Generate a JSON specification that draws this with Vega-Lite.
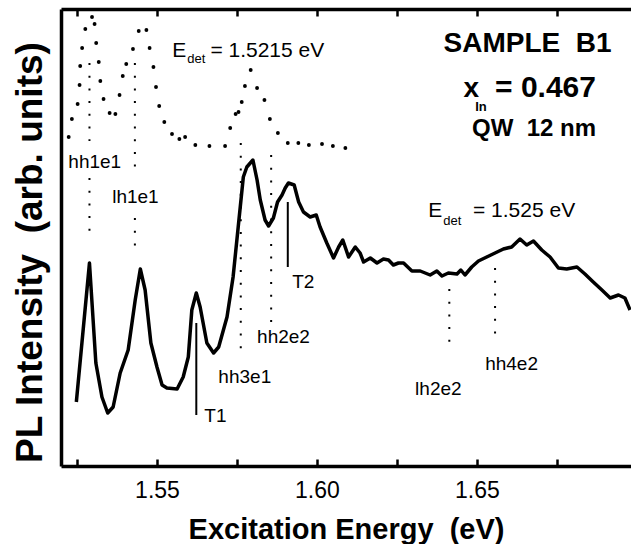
{
  "$schema": "https://vega.github.io/schema/vega-lite/v6.json",
  "width": 570,
  "height": 457,
  "autosize": "none",
  "padding": {"left": 61, "top": 9, "right": 0, "bottom": 78},
  "background": "white",
  "config": {"view": {"stroke": null}, "font": "Liberation Sans"},
  "datasets": {
    "pl": [
      {"E":1.5248,"I":64},{"E":1.5289,"I":203},{"E":1.5309,"I":103},{"E":1.5328,"I":69},{"E":1.5346,"I":53},{"E":1.5363,"I":59},{"E":1.5385,"I":93},{"E":1.5410,"I":116},{"E":1.5432,"I":166},{"E":1.5448,"I":197},{"E":1.5463,"I":176},{"E":1.5481,"I":123},{"E":1.5500,"I":99},{"E":1.5516,"I":81},{"E":1.5531,"I":78},{"E":1.5563,"I":77},{"E":1.5582,"I":89},{"E":1.5598,"I":109},{"E":1.5609,"I":156},{"E":1.5623,"I":173},{"E":1.5635,"I":159},{"E":1.5656,"I":123},{"E":1.5677,"I":113},{"E":1.5693,"I":119},{"E":1.5719,"I":149},{"E":1.5738,"I":189},{"E":1.5754,"I":239},{"E":1.5770,"I":289},{"E":1.5781,"I":299},{"E":1.5800,"I":306},{"E":1.5813,"I":286},{"E":1.5823,"I":266},{"E":1.5838,"I":246},{"E":1.5849,"I":240},{"E":1.5864,"I":248},{"E":1.5877,"I":264},{"E":1.5891,"I":271},{"E":1.5901,"I":278},{"E":1.5911,"I":283},{"E":1.5929,"I":281},{"E":1.5943,"I":264},{"E":1.5958,"I":254},{"E":1.5979,"I":249},{"E":1.5998,"I":251},{"E":1.6010,"I":239},{"E":1.6031,"I":223},{"E":1.6052,"I":208},{"E":1.6068,"I":219},{"E":1.6081,"I":226},{"E":1.6099,"I":209},{"E":1.6120,"I":219},{"E":1.6135,"I":213},{"E":1.6146,"I":204},{"E":1.6167,"I":208},{"E":1.6188,"I":203},{"E":1.6208,"I":207},{"E":1.6224,"I":206},{"E":1.6239,"I":201},{"E":1.6255,"I":203},{"E":1.6271,"I":203},{"E":1.6297,"I":195},{"E":1.6323,"I":195},{"E":1.6354,"I":191},{"E":1.6375,"I":195},{"E":1.6391,"I":190},{"E":1.6411,"I":193},{"E":1.6438,"I":192},{"E":1.6450,"I":196},{"E":1.6463,"I":191},{"E":1.6484,"I":199},{"E":1.6505,"I":205},{"E":1.6531,"I":209},{"E":1.6557,"I":213},{"E":1.6583,"I":217},{"E":1.6609,"I":219},{"E":1.6635,"I":227},{"E":1.6656,"I":221},{"E":1.6677,"I":225},{"E":1.6703,"I":216},{"E":1.6729,"I":209},{"E":1.6755,"I":198},{"E":1.6781,"I":197},{"E":1.6813,"I":199},{"E":1.6838,"I":192},{"E":1.6864,"I":184},{"E":1.6891,"I":176},{"E":1.6917,"I":168},{"E":1.6943,"I":171},{"E":1.6963,"I":168},{"E":1.6979,"I":156}
    ],
    "dots": [
      {"E":1.5224,"I":329},{"E":1.5234,"I":347},{"E":1.5252,"I":362},{"E":1.5258,"I":381},{"E":1.5260,"I":400},{"E":1.5266,"I":418},{"E":1.5276,"I":437},{"E":1.5297,"I":449},{"E":1.5305,"I":442},{"E":1.5310,"I":423},{"E":1.5318,"I":404},{"E":1.5323,"I":385},{"E":1.5333,"I":367},{"E":1.5352,"I":353},{"E":1.5370,"I":352},{"E":1.5383,"I":371},{"E":1.5393,"I":390},{"E":1.5404,"I":402},{"E":1.5425,"I":417},{"E":1.5443,"I":435},{"E":1.5467,"I":436},{"E":1.5477,"I":418},{"E":1.5489,"I":399},{"E":1.5497,"I":379},{"E":1.5507,"I":360},{"E":1.5523,"I":344},{"E":1.5547,"I":332},{"E":1.5570,"I":327},{"E":1.5588,"I":329},{"E":1.5620,"I":321},{"E":1.5664,"I":320},{"E":1.5713,"I":320},{"E":1.5729,"I":338},{"E":1.5746,"I":352},{"E":1.5755,"I":354},{"E":1.5765,"I":364},{"E":1.5775,"I":380},{"E":1.5793,"I":396},{"E":1.5813,"I":378},{"E":1.5836,"I":366},{"E":1.5853,"I":347},{"E":1.5878,"I":333},{"E":1.5909,"I":323},{"E":1.5942,"I":323},{"E":1.5975,"I":321},{"E":1.6016,"I":322},{"E":1.6050,"I":320},{"E":1.6089,"I":318}
    ],
    "vdots": [
      {"E":1.5289,"I":403,"I2":325},{"E":1.5289,"I":288,"I2":226},
      {"E":1.5431,"I":403,"I2":290},{"E":1.5431,"I":248,"I2":211},
      {"E":1.5762,"I":323,"I2":114},
      {"E":1.5857,"I":311,"I2":143},
      {"E":1.6414,"I":177,"I2":116},
      {"E":1.6557,"I":198,"I2":123}
    ],
    "slines": [
      {"E":1.5623,"I":143,"I2":51},{"E":1.5909,"I":264,"I2":199}
    ],
    "labels": [
      {"E":1.5223,"I":298,"t":"hh1e1"},{"E":1.5360,"I":263,"t":"lh1e1"},{"E":1.5692,"I":83,"t":"hh3e1"},{"E":1.5813,"I":123,"t":"hh2e2"},{"E":1.5648,"I":44,"t":"T1"},{"E":1.5923,"I":178,"t":"T2"},{"E":1.6307,"I":71,"t":"lh2e2"},{"E":1.6526,"I":96,"t":"hh4e2"}
    ],
    "edet": [
      {"E":1.5548,"I":409,"t":"E"},{"E":1.5667,"I":409,"t":"= 1.5215 eV"},{"E":1.6348,"I":249,"t":"E"},{"E":1.6488,"I":249,"t":"= 1.525 eV"}
    ],
    "edetsub": [
      {"E":1.5595,"I":403,"t":"det"},{"E":1.6395,"I":241,"t":"det"}
    ],
    "bold28": [
      {"E":1.6396,"I":414,"t":"SAMPLE\u00a0 B1"},{"E":1.6458,"I":369,"t":"x"}
    ],
    "bold30": [
      {"E":1.6557,"I":369,"t":"= 0.467"}
    ],
    "bold15": [
      {"E":1.6495,"I":355,"t":"In"}
    ],
    "bold25": [
      {"E":1.6485,"I":330,"t":"QW\u00a0 12 nm"}
    ]
  },
  "encoding": {
    "x": {"field": "E", "type": "quantitative", "scale": {"domain": [1.52, 1.6982], "nice": false, "zero": false}, "axis": null},
    "y": {"field": "I", "type": "quantitative", "scale": {"domain": [0, 457], "nice": false, "zero": false},
      "axis": {"orient": "left", "ticks": false, "labels": false, "domain": true, "domainColor": "black", "domainWidth": 3.5, "grid": false,
        "title": "PL Intensity\u00a0 (arb. units)", "titleFont": "Liberation Sans", "titleFontSize": 37, "titleFontWeight": "bold", "titleColor": "black", "titlePadding": 12, "titleY": 243}}
  },
  "resolve": {"axis": {"x": "independent"}},
  "layer": [
    {
      "data": {"name": "pl"},
      "mark": {"type": "line", "color": "black", "strokeWidth": 3.5, "strokeJoin": "round"},
      "encoding": {
        "x": {"field": "E", "type": "quantitative", "scale": {"domain": [1.52, 1.6982], "nice": false, "zero": false},
          "axis": {"orient": "bottom", "values": [1.525, 1.55, 1.575, 1.6, 1.625, 1.65, 1.675],
            "labelExpr": "abs(round(datum.value*1000) % 50) == 0 ? format(datum.value, '.2f') : ''",
            "labelOverlap": false, "labelFlush": false,
            "tickSize": -7, "tickWidth": 2.5, "tickColor": "black", "domainColor": "black", "domainWidth": 3.5, "grid": false,
            "labelFont": "Liberation Sans", "labelFontSize": 23, "labelColor": "black", "labelBaseline": "alphabetic", "labelPadding": 38,
            "title": "Excitation Energy\u00a0 (eV)", "titleFont": "Liberation Sans", "titleFontSize": 29, "titleFontWeight": "bold", "titleColor": "black", "titleBaseline": "alphabetic", "titleY": 72}}
      }
    },
    {
      "data": {"name": "dots"},
      "mark": {"type": "point", "shape": "circle", "filled": true, "color": "black", "size": 15, "opacity": 1},
      "encoding": {
        "x": {"field": "E", "type": "quantitative", "scale": {"domain": [1.52, 1.6982], "nice": false, "zero": false},
          "axis": {"orient": "top", "values": [1.525, 1.55, 1.575, 1.6, 1.625, 1.65, 1.675], "labels": false,
            "tickSize": -7, "tickWidth": 2.5, "tickColor": "black", "domainColor": "black", "domainWidth": 3.5, "grid": false, "title": null}}
      }
    },
    {
      "data": {"name": "vdots"},
      "mark": {"type": "rule", "color": "black", "strokeWidth": 2, "strokeDash": [2, 10.7]},
      "encoding": {"y2": {"field": "I2"}}
    },
    {
      "data": {"name": "slines"},
      "mark": {"type": "rule", "color": "black", "strokeWidth": 2},
      "encoding": {"y2": {"field": "I2"}}
    },
    {
      "data": {"name": "labels"},
      "mark": {"type": "text", "align": "left", "baseline": "alphabetic", "font": "Liberation Sans", "fontSize": 19, "color": "black"},
      "encoding": {"text": {"field": "t"}}
    },
    {
      "data": {"name": "edet"},
      "mark": {"type": "text", "align": "left", "baseline": "alphabetic", "font": "Liberation Sans", "fontSize": 21, "color": "black"},
      "encoding": {"text": {"field": "t"}}
    },
    {
      "data": {"name": "edetsub"},
      "mark": {"type": "text", "align": "left", "baseline": "alphabetic", "font": "Liberation Sans", "fontSize": 13, "color": "black"},
      "encoding": {"text": {"field": "t"}}
    },
    {
      "data": {"name": "bold28"},
      "mark": {"type": "text", "align": "left", "baseline": "alphabetic", "font": "Liberation Sans", "fontSize": 28, "fontWeight": "bold", "color": "black"},
      "encoding": {"text": {"field": "t"}}
    },
    {
      "data": {"name": "bold30"},
      "mark": {"type": "text", "align": "left", "baseline": "alphabetic", "font": "Liberation Sans", "fontSize": 30, "fontWeight": "bold", "color": "black"},
      "encoding": {"text": {"field": "t"}}
    },
    {
      "data": {"name": "bold15"},
      "mark": {"type": "text", "align": "left", "baseline": "alphabetic", "font": "Liberation Sans", "fontSize": 13, "fontWeight": "bold", "color": "black"},
      "encoding": {"text": {"field": "t"}}
    },
    {
      "data": {"name": "bold25"},
      "mark": {"type": "text", "align": "left", "baseline": "alphabetic", "font": "Liberation Sans", "fontSize": 24, "fontWeight": "bold", "color": "black"},
      "encoding": {"text": {"field": "t"}}
    }
  ]
}
